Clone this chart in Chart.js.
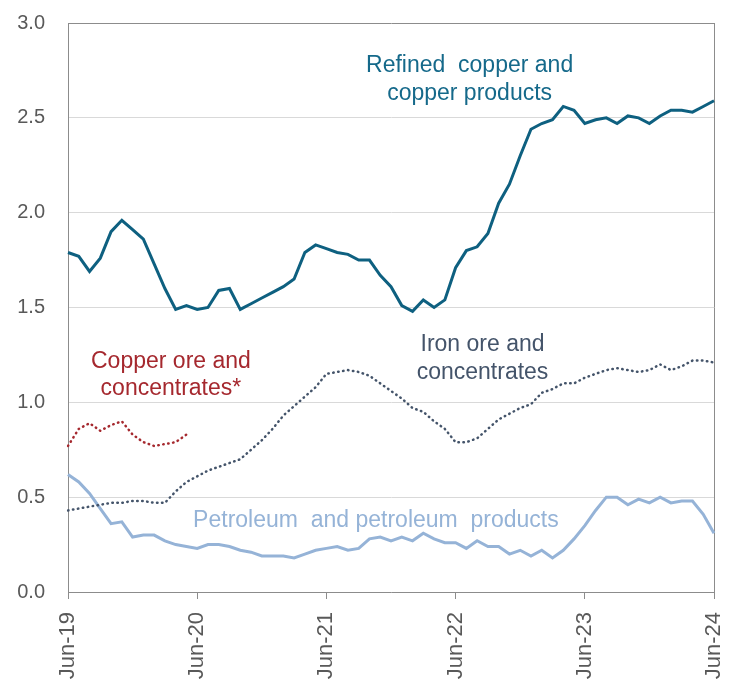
<!DOCTYPE html>
<html>
<head>
<meta charset="utf-8">
<script src="https://cdn.jsdelivr.net/npm/chart.js@4.4.1/dist/chart.umd.min.js"></script>
<style>
  html, body { margin: 0; padding: 0; background: #fff; }
  #wrap { width: 739px; height: 682px; }
</style>
</head>
<body>
<div id="wrap"><canvas id="chart"></canvas></div>
<script>
// Monthly categories, Jun-19 .. Jun-24
const monthNames = ['Jun', 'Jul', 'Aug', 'Sep', 'Oct', 'Nov', 'Dec', 'Jan', 'Feb', 'Mar', 'Apr', 'May'];
const startYears = [19, 20, 21, 22, 23];
const categories = [];
startYears.forEach((yr) => {
  monthNames.forEach((m, i) => categories.push(m + '-' + (i < 7 ? yr : yr + 1)));
});
categories.push('Jun-24');

// Tick labels shown on the axes
const xTickLabels = ['Jun-19', 'Jun-20', 'Jun-21', 'Jun-22', 'Jun-23', 'Jun-24'];
const yTicks = [0, 0.5, 1.0, 1.5, 2.0, 2.5, 3.0];

// Series values
const refinedCopper = [
  1.79, 1.77, 1.69, 1.76, 1.90, 1.96, 1.91, 1.86, 1.73, 1.60, 1.49, 1.51,
  1.49, 1.50, 1.59, 1.60, 1.49, 1.52, 1.55, 1.58, 1.61, 1.65, 1.79, 1.83,
  1.81, 1.79, 1.78, 1.75, 1.75, 1.67, 1.61, 1.51, 1.48, 1.54, 1.50, 1.54,
  1.71, 1.80, 1.82, 1.89, 2.05, 2.15, 2.30, 2.44, 2.47, 2.49, 2.56, 2.54,
  2.47, 2.49, 2.50, 2.47, 2.51, 2.50, 2.47, 2.51, 2.54, 2.54, 2.53, 2.56,
  2.59
];
const ironOre = [
  0.43, 0.44, 0.45, 0.46, 0.47, 0.47, 0.48, 0.48, 0.47, 0.47, 0.53, 0.58,
  0.61, 0.64, 0.66, 0.68, 0.70, 0.75, 0.80, 0.86, 0.93, 0.98, 1.03, 1.08,
  1.15, 1.16, 1.17, 1.16, 1.14, 1.10, 1.06, 1.02, 0.97, 0.95, 0.90, 0.86,
  0.79, 0.79, 0.81, 0.86, 0.91, 0.94, 0.97, 0.99, 1.05, 1.07, 1.10, 1.10,
  1.13, 1.15, 1.17, 1.18, 1.17, 1.16, 1.17, 1.20, 1.17, 1.19, 1.22, 1.22,
  1.21
];
const copperOre = [
  0.77, 0.86, 0.89, 0.85, 0.88, 0.90, 0.83, 0.79, 0.77, 0.78, 0.79, 0.83
];
const petroleum = [
  0.62, 0.58, 0.52, 0.44, 0.36, 0.37, 0.29, 0.30, 0.30, 0.27, 0.25, 0.24,
  0.23, 0.25, 0.25, 0.24, 0.22, 0.21, 0.19, 0.19, 0.19, 0.18, 0.20, 0.22,
  0.23, 0.24, 0.22, 0.23, 0.28, 0.29, 0.27, 0.29, 0.27, 0.31, 0.28, 0.26,
  0.26, 0.23, 0.27, 0.24, 0.24, 0.20, 0.22, 0.19, 0.22, 0.18, 0.22, 0.28,
  0.35, 0.43, 0.50, 0.50, 0.46, 0.49, 0.47, 0.50, 0.47, 0.48, 0.48, 0.41,
  0.31
];

// Series labels written inside the plot (anchored in data units: month index, value)
const seriesLabels = [
  { lines: ['Refined  copper and', 'copper products'], x: 37.3, y: [2.742, 2.592], color: '#15698A' },
  { lines: ['Iron ore and', 'concentrates'], x: 38.5, y: [1.271, 1.123], color: '#44546A' },
  { lines: ['Copper ore and', 'concentrates*'], x: 9.56, y: [1.181, 1.039], color: '#A5282E' },
  { lines: ['Petroleum  and petroleum  products'], x: 28.6, y: [0.344], color: '#95B3D7' }
];

const FONT = "'Liberation Sans', Arial, sans-serif";
const AXIS = '#8C8C8C';
const GRID = '#D9D9D9';

const labelPlugin = {
  id: 'seriesLabels',
  afterDatasetsDraw(chart) {
    const { ctx, scales } = chart;
    ctx.save();
    ctx.font = '23px ' + FONT;
    ctx.textAlign = 'center';
    ctx.textBaseline = 'alphabetic';
    seriesLabels.forEach((lab) => {
      ctx.fillStyle = lab.color;
      const px = scales.x.getPixelForValue(lab.x);
      lab.lines.forEach((t, i) => {
        ctx.fillText(t, px, scales.y.getPixelForValue(lab.y[i]));
      });
    });
    ctx.restore();
  }
};

const lineStyle = { pointRadius: 0, tension: 0, fill: false };

new Chart(document.getElementById('chart'), {
  type: 'line',
  data: {
    labels: categories,
    datasets: [
      { ...lineStyle, label: 'Refined copper and copper products', data: refinedCopper,
        borderColor: '#0E6080', borderWidth: 3 },
      { ...lineStyle, label: 'Iron ore and concentrates', data: ironOre,
        borderColor: '#44546A', borderWidth: 2.5, borderDash: [0.5, 4.5], borderCapStyle: 'round' },
      { ...lineStyle, label: 'Copper ore and concentrates*', data: copperOre,
        borderColor: '#A5282E', borderWidth: 2.5, borderDash: [0.5, 4.5], borderCapStyle: 'round' },
      { ...lineStyle, label: 'Petroleum and petroleum products', data: petroleum,
        borderColor: '#95B3D7', borderWidth: 3 }
    ]
  },
  options: {
    responsive: true,
    maintainAspectRatio: false,
    animation: false,
    devicePixelRatio: 1,
    layout: { padding: { top: 23, right: 25, left: 0, bottom: 0 } },
    plugins: { legend: { display: false }, tooltip: { enabled: false } },
    scales: {
      x: {
        type: 'category',
        offset: false,
        afterFit(scale) {
          scale.height = 90;
          scale.paddingLeft = 0;
          scale.paddingRight = 0;
        },
        border: { display: true, color: AXIS, width: 1 },
        grid: {
          drawOnChartArea: true,
          color: (c) => (c.index === categories.length - 1 ? AXIS : 'rgba(0,0,0,0)'),
          tickColor: (c) => (xTickLabels.includes(categories[c.index]) ? AXIS : 'rgba(0,0,0,0)'),
          tickLength: 7
        },
        ticks: {
          autoSkip: false,
          maxRotation: 90,
          minRotation: 90,
          padding: 13,
          color: '#595959',
          font: { family: FONT, size: 22 },
          callback: (v, i) => (xTickLabels.includes(categories[i]) ? categories[i] : '')
        }
      },
      y: {
        min: 0,
        max: 3,
        afterFit(scale) {
          scale.width = 68;
          scale.paddingTop = 0;
          scale.paddingBottom = 0;
        },
        afterBuildTicks(scale) { scale.ticks = yTicks.map((v) => ({ value: v })); },
        border: { display: true, color: AXIS, width: 1 },
        grid: {
          drawTicks: false,
          color: (c) => (c.tick && c.tick.value === 3 ? AXIS : GRID)
        },
        ticks: {
          padding: 23,
          color: '#595959',
          font: { family: FONT, size: 20 },
          callback: (v) => Number(v).toFixed(1)
        }
      }
    }
  },
  plugins: [labelPlugin]
});
</script>
</body>
</html>
